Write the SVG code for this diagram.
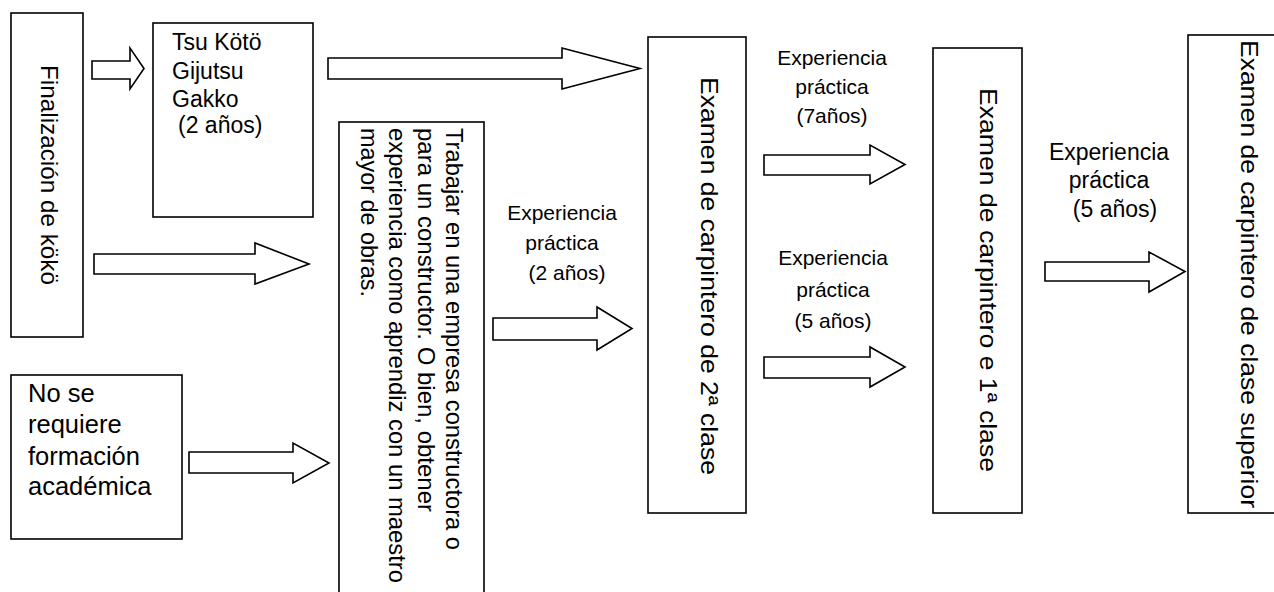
<svg xmlns="http://www.w3.org/2000/svg" width="1274" height="592" viewBox="0 0 1274 592">
  <style>
    .box { fill: #fff; stroke: #000; stroke-width: 1.6; }
    .arrow { fill: #fff; stroke: #000; stroke-width: 1.6; stroke-linejoin: miter; }
    text { font-family: "Liberation Sans", Arial, sans-serif; fill: #000; }
    .lbl { font-size: 21px; text-anchor: middle; }
    .big { font-size: 23px; }
    .vert { font-size: 24px; }
    .trab { font-size: 23.7px; }
  </style>
  <rect width="1274" height="592" fill="#fff"/>

  <g id="connectors">
    <polygon class="arrow" points="92,61 130,61 130,48 144,68.5 130,89 130,79 92,79"/>
    <polygon class="arrow" points="94,254 255,254 255,243 309,264 255,284 255,274 94,274"/>
    <polygon class="arrow" points="328,58 562,58 562,48 640,68.5 562,89 562,79 328,79"/>
    <polygon class="arrow" points="189,452 293,452 293,443 329,463 293,483 293,473 189,473"/>
    <polygon class="arrow" points="493,318 597,318 597,307 632,328.5 597,350 597,340 493,340"/>
    <polygon class="arrow" points="764,155 870,155 870,145 905,164.5 870,184 870,175 764,175"/>
    <polygon class="arrow" points="764,357 870,357 870,347 905,367 870,387 870,378 764,378"/>
    <polygon class="arrow" points="1045,262 1149,262 1149,252 1185,271.5 1149,292 1149,281 1045,281"/>
  </g>

  <g id="node-finalizacion">
    <rect class="box" x="11" y="13" width="72" height="324"/>
    <text class="vert" transform="translate(41,65) rotate(90)" x="0" y="0" textLength="220" lengthAdjust="spacingAndGlyphs">Finalización de kökö</text>
  </g>

  <g id="node-tsu">
    <rect class="box" x="153" y="23" width="160" height="194"/>
    <text class="big" x="172" y="50">Tsu Kötö</text>
    <text class="big" x="172" y="78.5">Gijutsu</text>
    <text class="big" x="172" y="107">Gakko</text>
    <text class="big" x="178" y="133">(2 años)</text>
  </g>

  <g id="node-no-se-requiere">
    <rect class="box" x="11" y="375" width="171" height="164"/>
    <text style="font-size:25.5px" x="28" y="402">No se</text>
    <text style="font-size:25.5px" x="28" y="433">requiere</text>
    <text style="font-size:25.5px" x="28" y="465">formación</text>
    <text style="font-size:25.5px" x="28" y="495">académica</text>
  </g>

  <g id="node-trabajar">
    <rect class="box" x="339" y="122" width="145" height="490"/>
    <text class="trab" transform="translate(446,128) rotate(90)" textLength="422" lengthAdjust="spacingAndGlyphs">Trabajar en una empresa constructora o</text>
    <text class="trab" transform="translate(417.5,128) rotate(90)" textLength="384" lengthAdjust="spacingAndGlyphs">para un constructor. O bien, obtener</text>
    <text class="trab" transform="translate(389,128) rotate(90)" textLength="455" lengthAdjust="spacingAndGlyphs">experiencia como aprendiz con un maestro</text>
    <text class="trab" transform="translate(360.5,128) rotate(90)" textLength="169" lengthAdjust="spacingAndGlyphs">mayor de obras.</text>
  </g>

  <g id="label-2anos">
    <text class="lbl" x="562" y="220">Experiencia</text>
    <text class="lbl" x="562" y="250">práctica</text>
    <text class="lbl" x="567" y="280">(2 años)</text>
  </g>

  <g id="node-examen-2">
    <rect class="box" x="648" y="37" width="98" height="476"/>
    <text class="vert" transform="translate(701,77) rotate(90)" textLength="398" lengthAdjust="spacingAndGlyphs">Examen de carpintero de 2ª clase</text>
  </g>

  <g id="label-7anos">
    <text class="lbl" x="832" y="65">Experiencia</text>
    <text class="lbl" x="832" y="94">práctica</text>
    <text class="lbl" x="832" y="123">(7años)</text>
  </g>

  <g id="label-5anos-a">
    <text class="lbl" x="833" y="265">Experiencia</text>
    <text class="lbl" x="833" y="297">práctica</text>
    <text class="lbl" x="833" y="328">(5 años)</text>
  </g>

  <g id="node-examen-1">
    <rect class="box" x="933" y="48" width="89" height="465"/>
    <text class="vert" transform="translate(980,88) rotate(90)" textLength="384" lengthAdjust="spacingAndGlyphs">Examen de carpintero e 1ª clase</text>
  </g>

  <g id="label-5anos-b">
    <text class="lbl" style="font-size:23px" x="1109" y="160">Experiencia</text>
    <text class="lbl" style="font-size:23px" x="1109" y="188">práctica</text>
    <text class="lbl" style="font-size:23px" x="1115" y="217">(5 años)</text>
  </g>

  <g id="node-examen-superior">
    <rect class="box" x="1188" y="35" width="110" height="478"/>
    <text class="vert" transform="translate(1241,40) rotate(90)" textLength="468" lengthAdjust="spacingAndGlyphs">Examen de carpintero de clase superior</text>
  </g>
</svg>
